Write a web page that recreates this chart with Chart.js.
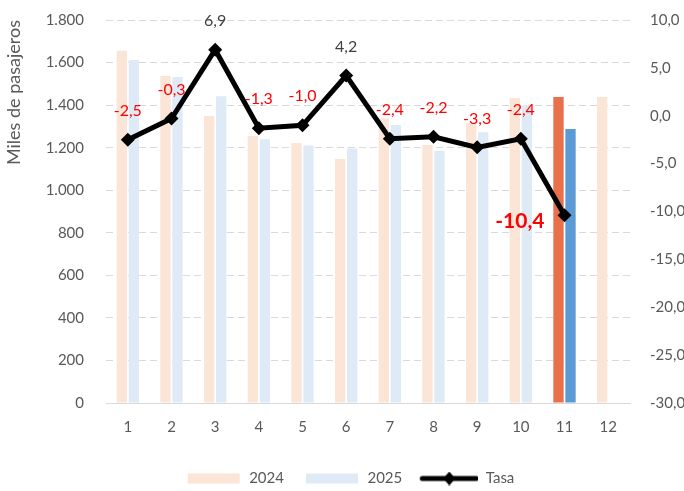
<!DOCTYPE html>
<html>
<head>
<meta charset="utf-8">
<script src="https://cdn.jsdelivr.net/npm/chart.js@4"></script>
<style>
  html, body { margin: 0; padding: 0; background: #fff; }
  #wrap { width: 684px; height: 491px; }
</style>
</head>
<body>
<div id="wrap"><canvas id="chart"></canvas></div>
<script>
const categories = ["1", "2", "3", "4", "5", "6", "7", "8", "9", "10", "11", "12"];
const pax2024 = [1655, 1537, 1349, 1255, 1222, 1147, 1338, 1212, 1316, 1433, 1438, 1438];
const pax2025 = [1612, 1532, 1442, 1240, 1210, 1196, 1306, 1185, 1272, 1399, 1288, null];
const tasa = [-2.5, -0.3, 6.9, -1.3, -1.0, 4.2, -2.4, -2.2, -3.3, -2.4, -10.4, null];
const seriesNames = ["2024", "2025", "Tasa"];
const highlightIndex = 10;

const fontFamily = "Lato, 'Open Sans', sans-serif";
const gray = "#595959";

const fmtThousands = (v) => v.toLocaleString("de-DE");
const fmtDecimal = (v) => v.toFixed(1).replace(".", ",");

// legend swatches drawn on small canvases (blank strip on the left = spacing)
const swW = 72;
function swatch(kind, color) {
    const c = document.createElement("canvas");
    c.width = swW;
    c.height = 14;
    const g = c.getContext("2d");
    if (kind === "box") {
        g.fillStyle = color;
        g.fillRect(18, 2, 52, 10);
    } else {
        g.strokeStyle = color;
        g.lineWidth = 5;
        g.lineCap = "round";
        g.beginPath();
        g.moveTo(16, 7);
        g.lineTo(70, 7);
        g.stroke();
        g.fillStyle = color;
        g.beginPath();
        g.moveTo(43, 0);
        g.lineTo(49, 7);
        g.lineTo(43, 14);
        g.lineTo(37, 7);
        g.closePath();
        g.fill();
    }
    return c;
}

const labelPlugin = {
    id: "tasaLabels",
    afterDatasetsDraw(chart) {
        const meta = chart.getDatasetMeta(2);
        const ctx = chart.ctx;
        ctx.save();
        meta.data.forEach((pt, i) => {
            const v = tasa[i];
            if (v === null || v === undefined) return;
            if (i === highlightIndex) {
                ctx.font = "bold 21px " + fontFamily;
                ctx.fillStyle = "#FF0000";
                ctx.textAlign = "right";
                ctx.textBaseline = "middle";
                ctx.fillText(fmtDecimal(v), pt.x - 20, pt.y + 6);
            } else {
                ctx.font = "16px " + fontFamily;
                ctx.fillStyle = v < 0 ? "#FF0000" : "#404040";
                ctx.textAlign = "center";
                ctx.textBaseline = "middle";
                ctx.fillText(fmtDecimal(v), pt.x, pt.y - 29);
            }
        });
        ctx.restore();
    }
};

const ctx = document.getElementById("chart").getContext("2d");
new Chart(ctx, {
    data: {
        labels: categories,
        datasets: [
            {
                type: "bar",
                label: seriesNames[0],
                data: pax2024,
                yAxisID: "y",
                order: 2,
                backgroundColor: pax2024.map((_, i) => (i === highlightIndex ? "#E8704A" : "#FBE5D6")),
                categoryPercentage: 0.55,
                barPercentage: 0.86
            },
            {
                type: "bar",
                label: seriesNames[1],
                data: pax2025,
                yAxisID: "y",
                order: 2,
                backgroundColor: pax2025.map((_, i) => (i === highlightIndex ? "#5B9BD5" : "#DEEBF7")),
                categoryPercentage: 0.55,
                barPercentage: 0.86
            },
            {
                type: "line",
                label: seriesNames[2],
                data: tasa,
                yAxisID: "y1",
                order: 1,
                borderColor: "#000",
                backgroundColor: "#000",
                borderWidth: 5,
                tension: 0,
                pointStyle: "rectRot",
                pointRadius: 7,
                pointBackgroundColor: "#000",
                pointBorderWidth: 0
            }
        ]
    },
    options: {
        responsive: true,
        maintainAspectRatio: false,
        animation: false,
        layout: { padding: { top: 20, right: 0, left: 0, bottom: -5 } },
        plugins: {
            tooltip: { enabled: false },
            legend: {
                position: "bottom",
                labels: {
                    usePointStyle: true,
                    pointStyleWidth: swW,
                    boxHeight: 14,
                    padding: 4,
                    color: gray,
                    font: { family: fontFamily, size: 15 },
                    generateLabels: () => [
                        { text: seriesNames[0], pointStyle: swatch("box", "#FBE5D6"), fontColor: gray, datasetIndex: 0, hidden: false, lineWidth: 0 },
                        { text: seriesNames[1], pointStyle: swatch("box", "#DEEBF7"), fontColor: gray, datasetIndex: 1, hidden: false, lineWidth: 0 },
                        { text: seriesNames[2], pointStyle: swatch("line", "#000"), fontColor: gray, datasetIndex: 2, hidden: false, lineWidth: 0 }
                    ]
                }
            }
        },
        scales: {
            x: {
                afterFit: (s) => { s.height = 64; },
                grid: { display: false, drawTicks: false },
                border: { display: true, color: "#D9D9D9" },
                ticks: { color: gray, padding: 15, font: { family: fontFamily, size: 15 } }
            },
            y: {
                position: "left",
                min: 0,
                max: 1800,
                afterFit: (s) => { s.width = 106; },
                grid: { color: "#D9D9D9", drawTicks: true, tickLength: 19, tickColor: "rgba(0,0,0,0)" },
                border: { display: false, dash: [7, 4] },
                ticks: {
                    stepSize: 200,
                    padding: 3,
                    color: gray,
                    font: { family: fontFamily, size: 15 },
                    callback: (v) => fmtThousands(v)
                },
                title: {
                    display: true,
                    text: "Miles de pasajeros",
                    align: "end",
                    color: gray,
                    font: { family: fontFamily, size: 18 },
                    padding: { top: 3, bottom: 0 }
                }
            },
            y1: {
                position: "right",
                min: -30,
                max: 10,
                afterFit: (s) => { s.width = 54; },
                grid: { display: true, drawOnChartArea: false, color: "rgba(0,0,0,0)", drawTicks: true, tickLength: 17 },
                border: { display: false },
                ticks: {
                    stepSize: 5,
                    padding: 3,
                    color: gray,
                    font: { family: fontFamily, size: 15 },
                    callback: (v) => fmtDecimal(v)
                }
            }
        }
    },
    plugins: [labelPlugin]
});
</script>
</body>
</html>
